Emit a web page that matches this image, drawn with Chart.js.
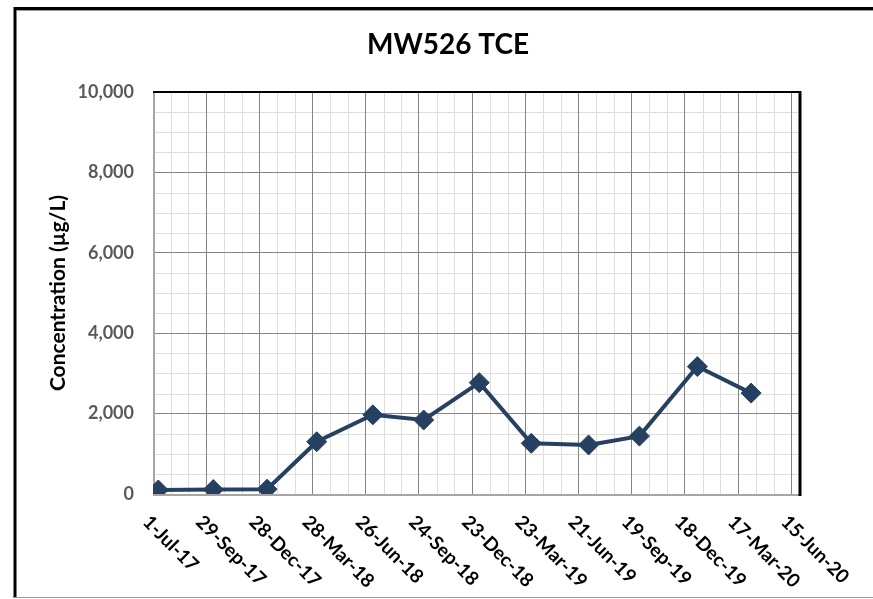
<!DOCTYPE html>
<html>
<head>
<meta charset="utf-8">
<script src="https://cdn.jsdelivr.net/npm/chart.js@4/dist/chart.umd.min.js"></script>
<style>
  html, body { margin: 0; padding: 0; background: #fff; }
  canvas { display: block; }
</style>
</head>
<body>
<canvas id="chart" width="873" height="599"></canvas>
<script>
// sample data
const sampleDates = ['2017-07-10', '2017-10-11', '2018-01-10', '2018-04-04', '2018-07-08', '2018-10-02',
                     '2019-01-04', '2019-04-02', '2019-07-08', '2019-10-02', '2020-01-08', '2020-04-08'];
const tceValues = [100, 110, 120, 1300, 1970, 1840, 2770, 1260, 1220, 1440, 3170, 2510];

// axis settings
const axisStart = '2017-07-01';
const axisEndDays = 1093;
const xStepDays = 90;
const xMinorDays = 30;
const yMax = 10000;
const yStep = 2000;
const yMinorStep = 500;

const chartTitle = 'MW526 TCE';
const yTitle = 'Concentration (µg/L)';

const MONTHS = ['Jan', 'Feb', 'Mar', 'Apr', 'May', 'Jun', 'Jul', 'Aug', 'Sep', 'Oct', 'Nov', 'Dec'];
const DAY = 86400000;
const startMs = Date.parse(axisStart + 'T00:00:00Z');

function toDays(iso) {
    return Math.round((Date.parse(iso + 'T00:00:00Z') - startMs) / DAY);
}

function fmtDate(days) {
    const d = new Date(startMs + days * DAY);
    return d.getUTCDate() + '-' + MONTHS[d.getUTCMonth()] + '-' + String(d.getUTCFullYear()).slice(2);
}

const points = sampleDates.map((d, i) => ({ x: toDays(d), y: tceValues[i] }));

const lineColor = '#264061';
const labelFont = 'bold 19px Lato';

// white background, outer frame and minor gridlines
const backdrop = {
    id: 'backdrop',
    beforeDraw(chart) {
        const ctx = chart.ctx;
        const area = chart.chartArea;
        const xs = chart.scales.x, ys = chart.scales.y;
        ctx.save();
        ctx.fillStyle = '#fff';
        ctx.fillRect(0, 0, chart.width, chart.height);

        // outer frame
        ctx.strokeStyle = '#000';
        ctx.lineWidth = 3;
        ctx.beginPath();
        ctx.moveTo(15, 598);
        ctx.lineTo(15, 8.5);
        ctx.lineTo(chart.width + 5, 8.5);
        ctx.stroke();
        ctx.strokeStyle = '#9a9a9a';
        ctx.lineWidth = 1;
        ctx.beginPath();
        ctx.moveTo(17, 10.5);
        ctx.lineTo(chart.width, 10.5);
        ctx.moveTo(14, 597.5);
        ctx.lineTo(chart.width, 597.5);
        ctx.stroke();

        // minor grid
        ctx.strokeStyle = '#dedede';
        ctx.lineWidth = 1;
        ctx.beginPath();
        for (let v = 0; v <= axisEndDays; v += xMinorDays) {
            if (v % xStepDays === 0) continue;
            const px = Math.round(xs.getPixelForValue(v)) + 0.5;
            ctx.moveTo(px, area.top);
            ctx.lineTo(px, area.bottom);
        }
        for (let v = 0; v <= yMax; v += yMinorStep) {
            if (v % yStep === 0) continue;
            const py = Math.round(ys.getPixelForValue(v)) + 0.5;
            ctx.moveTo(area.left, py);
            ctx.lineTo(area.right, py);
        }
        ctx.stroke();
        ctx.restore();
    },
    beforeDatasetsDraw(chart) {
        const ctx = chart.ctx;
        const a = chart.chartArea;
        ctx.save();
        // grey left / bottom edges
        ctx.strokeStyle = '#a6a6a6';
        ctx.lineWidth = 2;
        ctx.beginPath();
        ctx.moveTo(a.left + 1, a.top);
        ctx.lineTo(a.left + 1, a.bottom + 1);
        ctx.lineTo(a.right, a.bottom + 1);
        ctx.stroke();
        // black top / right edges
        ctx.strokeStyle = '#000';
        ctx.lineWidth = 2;
        ctx.beginPath();
        ctx.moveTo(a.left, a.top);
        ctx.lineTo(a.right + 1, a.top);
        ctx.stroke();
        ctx.lineWidth = 3;
        ctx.beginPath();
        ctx.moveTo(a.right + 1, a.top - 1);
        ctx.lineTo(a.right + 1, a.bottom + 2);
        ctx.stroke();
        ctx.restore();
    },
    afterDraw(chart) {
        const ctx = chart.ctx;
        const xs = chart.scales.x;
        ctx.save();
        // title
        ctx.fillStyle = '#000';
        ctx.font = 'bold 28px Lato';
        ctx.textAlign = 'center';
        ctx.textBaseline = 'middle';
        ctx.fillText(chartTitle, 448, 45);

        // slanted date labels
        ctx.font = labelFont;
        ctx.textAlign = 'left';
        ctx.textBaseline = 'middle';
        xs.ticks.forEach(t => {
            const px = xs.getPixelForValue(t.value);
            ctx.save();
            ctx.translate(px - 7, 519);
            ctx.rotate(Math.PI / 4);
            ctx.fillText(fmtDate(t.value), 0, 0);
            ctx.restore();
        });
        ctx.restore();
    }
};

new Chart(document.getElementById('chart'), {
    type: 'line',
    data: {
        datasets: [{
            label: chartTitle,
            data: points,
            borderColor: lineColor,
            backgroundColor: lineColor,
            borderWidth: 4,
            pointStyle: 'rectRot',
            pointRadius: 10,
            pointBorderWidth: 1,
            pointBackgroundColor: lineColor,
            pointBorderColor: lineColor,
            tension: 0
        }]
    },
    options: {
        responsive: false,
        animation: false,
        events: [],
        layout: { padding: { top: 92, right: 74, left: 0, bottom: 0 } },
        plugins: {
            legend: { display: false },
            title: { display: false },
            tooltip: { enabled: false }
        },
        scales: {
            x: {
                type: 'linear',
                min: 0,
                max: axisEndDays,
                afterBuildTicks: function (scale) {
                    const ticks = [];
                    for (let v = 0; v <= axisEndDays; v += xStepDays) ticks.push({ value: v });
                    scale.ticks = ticks;
                },
                afterFit: function (scale) { scale.height = 105; },
                ticks: { stepSize: xStepDays, display: false },
                grid: { color: '#858585', lineWidth: 1, drawTicks: false },
                border: { display: false }
            },
            y: {
                min: 0,
                max: yMax,
                afterFit: function (scale) { scale.width = 153; },
                ticks: {
                    stepSize: yStep,
                    padding: 19,
                    color: '#595959',
                    font: { family: 'Lato', size: 18, weight: 'bold' },
                    callback: v => v.toLocaleString('en-US')
                },
                grid: { color: '#858585', lineWidth: 1, drawTicks: false },
                border: { display: false },
                title: {
                    display: true,
                    text: yTitle,
                    color: '#000',
                    font: { family: 'Lato', size: 21, weight: 'bold' },
                    padding: { top: 46, bottom: 0 }
                }
            }
        }
    },
    plugins: [backdrop]
});
</script>
</body>
</html>
